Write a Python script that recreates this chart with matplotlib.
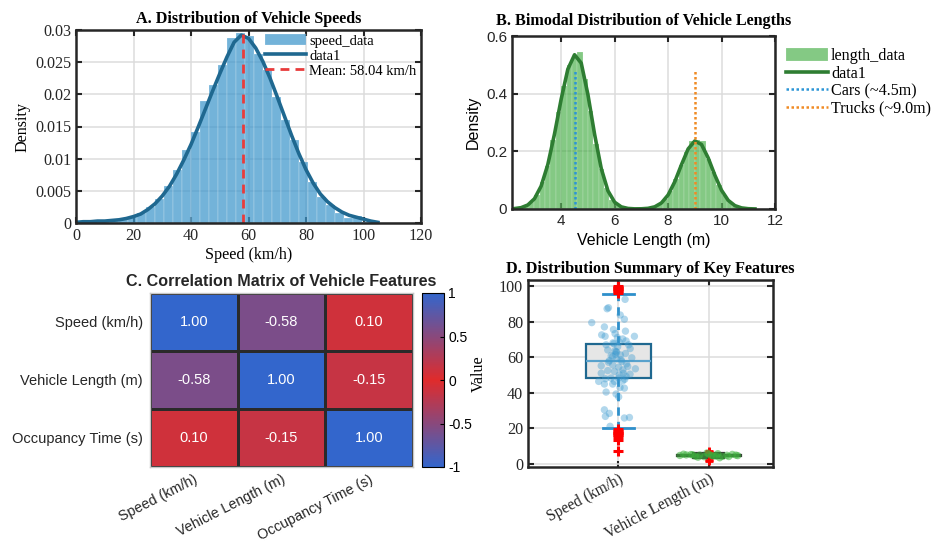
import numpy as np
import matplotlib
matplotlib.use("Agg")
import matplotlib.pyplot as plt
from matplotlib.colors import LinearSegmentedColormap

SERIF = "Liberation Serif"
SANS = "Liberation Sans"
plt.rcParams["axes.unicode_minus"] = False

# ── A: vehicle speeds (pdf-normalised histogram + kernel density) ──
SPEED_EDGE0, SPEED_BINW = 2.3, 3.13
SPEED_HIST = [0.0001, 0.0001, 0.0002, 0.0003, 0.0005, 0.0009, 0.0015, 0.0025,
              0.0038, 0.0058, 0.0082, 0.0114, 0.0142, 0.0189, 0.0215, 0.0246,
              0.0287, 0.0296, 0.0291, 0.0262, 0.0238, 0.0196, 0.0160, 0.0129,
              0.0095, 0.0064, 0.0040, 0.0028, 0.0016, 0.0008, 0.0011, 0.0002]
SPEED_KDE_X = [0, 2.5, 5, 7.5, 10, 12.5, 15, 17.5, 20, 22.5, 25, 27.5, 30, 32.5,
               35, 37.5, 40, 42.5, 45, 47.5, 50, 52.5, 55, 57.5, 60, 62.5, 65,
               67.5, 70, 72.5, 75, 77.5, 80, 82.5, 85, 87.5, 90, 92.5, 95, 97.5,
               100, 102.5, 105]
SPEED_KDE_Y = [0.0001, 0.0002, 0.0002, 0.0003, 0.0003, 0.0004, 0.0005, 0.0007,
               0.0010, 0.0014, 0.0021, 0.0030, 0.0042, 0.0057, 0.0076, 0.0098,
               0.0122, 0.0149, 0.0177, 0.0205, 0.0232, 0.0258, 0.0281, 0.0292,
               0.0287, 0.0272, 0.0251, 0.0225, 0.0196, 0.0166, 0.0136, 0.0108,
               0.0083, 0.0062, 0.0045, 0.0033, 0.0024, 0.0017, 0.0012, 0.0009,
               0.0006, 0.0003, 0.0001]
SPEED_MEAN = 58.04

# ── B: vehicle lengths (bimodal) ──
LEN_EDGE0, LEN_BINW = 2.2, 0.2
LEN_HIST = [0.002, 0.004, 0.011, 0.024, 0.048, 0.092, 0.150, 0.240, 0.335, 0.425,
            0.500, 0.530, 0.545, 0.452, 0.340, 0.225, 0.140, 0.072, 0.032, 0.013,
            0.005, 0.002, 0.0005, 0.0008, 0.0015, 0.003, 0.008, 0.017, 0.035, 0.062,
            0.105, 0.152, 0.196, 0.236, 0.238, 0.236, 0.175, 0.128, 0.083, 0.047,
            0.024, 0.011, 0.005, 0.002, 0.001, 0.0005]
LEN_KDE_X = [2.25, 2.5, 2.75, 3.0, 3.25, 3.5, 3.75, 4.0, 4.25, 4.5, 4.75, 5.0,
             5.25, 5.5, 5.75, 6.0, 6.25, 6.5, 6.75, 7.0, 7.25, 7.5, 7.75, 8.0,
             8.25, 8.5, 8.75, 9.0, 9.25, 9.5, 9.75, 10.0, 10.25, 10.5, 10.75,
             11.0, 11.25]
LEN_KDE_Y = [0.0014, 0.0046, 0.0138, 0.0355, 0.0794, 0.154, 0.260, 0.381, 0.485,
             0.535, 0.506, 0.397, 0.259, 0.140, 0.063, 0.0236, 0.0073, 0.0019,
             0.0005, 0.0007, 0.0023, 0.0075, 0.0209, 0.0486, 0.0945, 0.1535,
             0.2083, 0.2361, 0.2238, 0.1772, 0.1172, 0.0648, 0.0299, 0.0116,
             0.0037, 0.0010, 0.0002]
CAR_LEN, TRUCK_LEN = 4.5, 9.0

# ── C: correlation matrix ──
FEATURES = ["Speed (km/h)", "Vehicle Length (m)", "Occupancy Time (s)"]
CORR = [[1.00, -0.58, 0.10],
        [-0.58, 1.00, -0.15],
        [0.10, -0.15, 1.00]]

# ── D: box summaries + jittered samples ──
BOX_LABELS = ["Speed (km/h)", "Vehicle Length (m)"]
SPEED_BOX = dict(q1=48.2, med=57.9, q3=67.6, whislo=20.0, whishi=95.7)
SPEED_OUT = [96.3, 97.0, 97.6, 98.2, 98.8, 99.4, 100.0, 19.3, 18.6, 17.9,
             17.2, 16.6, 15.9, 15.2, 13.5, 7.3]
SPEED_JIT = [0.074, -0.11, -0.125, 0.02, 0.066, -0.295, -0.155, -0.055, 0.078,
             -0.185, -0.147, -0.037, -0.011, 0.177, 0.048, 0.085, 0.011, -0.06,
             0.114, -0.136, -0.008, -0.118, -0.04, -0.026, 0.078, 0.022, -0.063,
             -0.018, 0.148, 0.037, -0.11, -0.19, -0.063, 0.003, 0.103, 0.188,
             -0.118, -0.044, -0.19, 0.055, 0.129, 0.085, 0.003, -0.081, -0.144,
             -0.218, 0.048, -0.044, -0.155, -0.063, 0.018, 0.066, -0.136, -0.026,
             0.003, -0.155, -0.1, -0.144, 0.066, 0.122, -0.092, 0.03, -0.08,
             0.09, -0.02, 0.05, -0.1, 0.13, -0.05, 0.01, 0.07, -0.03]
SPEED_PTS = [92.5, 87.8, 87.2, 83.7, 81.3, 79.4, 77.0, 75.5, 74.6, 72.5, 71.7,
             73.2, 71.0, 71.7, 70.2, 69.1, 68.4, 68.0, 66.9, 66.9, 65.9, 64.0,
             63.5, 63.1, 62.0, 61.2, 60.3, 59.0, 59.6, 57.5, 57.1, 55.1, 55.6,
             54.3, 54.7, 53.4, 52.4, 51.9, 50.9, 50.9, 50.4, 49.1, 48.2, 48.2,
             47.8, 46.3, 46.6, 46.3, 44.8, 44.8, 42.9, 42.5, 40.3, 39.2, 37.6,
             30.3, 28.3, 26.6, 25.7, 26.0, 21.0, 58.5, 60.8, 56.2, 62.8, 52.8,
             58.0, 64.8, 67.5, 50.0, 47.5, 61.5]
LEN_BOX = dict(q1=4.3, med=4.65, q3=5.0, whislo=3.2, whishi=6.2)
LEN_OUT = [7.3, 6.8, 2.0, 1.7]
LEN_JIT = [-0.32, -0.25, -0.2, -0.15, -0.1, -0.05, 0.0, 0.05, 0.1, 0.15, 0.2,
           0.26, 0.32, -0.28, -0.12, 0.08, 0.22, -0.02, 0.12, -0.18, 0.03, 0.3]
LEN_PTS = [4.6, 4.9, 5.1, 4.2, 4.8, 3.9, 5.4, 4.4, 5.6, 4.1, 4.7, 5.2, 4.5,
           5.3, 3.6, 4.3, 4.0, 6.0, 3.3, 5.0, 4.6, 4.8]

W, H = 931, 543
fig = plt.figure(figsize=(W / 100, H / 100), dpi=100)
FS = 11.6


def px_axes(l, t, r, b):
    return fig.add_axes([l / W, 1 - b / H, (r - l) / W, (b - t) / H])


def matlab_axes(ax, font, size=FS):
    for s in ax.spines.values():
        s.set_linewidth(1.8)
        s.set_color("#262626")
    ax.tick_params(direction="in", length=4, width=1.5, top=True, right=True,
                   labelsize=size, colors="#262626")
    for lab in ax.get_xticklabels() + ax.get_yticklabels():
        lab.set_fontfamily(font)
    ax.grid(True, color="#dcdcdc", linewidth=1.1)
    ax.set_axisbelow(True)


# ---------------- A ----------------
ax = px_axes(76, 30, 421, 223)
edges = SPEED_EDGE0 + SPEED_BINW * np.arange(len(SPEED_HIST) + 1)
ax.hist(edges[:-1] + SPEED_BINW / 2, bins=edges, weights=SPEED_HIST,
        color="#3d96cb", alpha=0.72, edgecolor=(1, 1, 1, 0.5), linewidth=0.2,
        label="speed_data")
ax.plot(SPEED_KDE_X, SPEED_KDE_Y, color="#1f6890", lw=2.6, label="data1")
ax.axvline(SPEED_MEAN, color="#e83b3b", lw=2, ls=(0, (3.2, 2.2)),
           label=f"Mean: {SPEED_MEAN:.2f} km/h")
ax.set_xlim(0, 120)
ax.set_ylim(0, 0.03)
ax.set_xticks(range(0, 121, 20))
ax.set_yticks([0, 0.005, 0.01, 0.015, 0.02, 0.025, 0.03])
ax.set_yticklabels(["0", "0.005", "0.01", "0.015", "0.02", "0.025", "0.03"])
matlab_axes(ax, SERIF)
ax.set_xlabel("Speed (km/h)", fontfamily=SERIF, fontsize=FS, labelpad=2)
ax.set_ylabel("Density", fontfamily=SERIF, fontsize=FS, labelpad=3)
ax.set_title("A. Distribution of Vehicle Speeds", fontfamily=SERIF,
             fontsize=FS, weight="bold", pad=5)
ax.legend(loc="upper right", frameon=False, prop=dict(family=SERIF, size=10.5),
          handlelength=2.8, handleheight=0.75, labelspacing=0.1,
          handletextpad=0.25, borderaxespad=0.1, borderpad=0.2)

# ---------------- B ----------------
ax = px_axes(512, 36, 775, 209)
edges = LEN_EDGE0 + LEN_BINW * np.arange(len(LEN_HIST) + 1)
ax.hist(edges[:-1] + LEN_BINW / 2, bins=edges, weights=LEN_HIST,
        color="#33a633", alpha=0.6, edgecolor=(1, 1, 1, 0.5), linewidth=0.2,
        label="length_data")
ax.plot(LEN_KDE_X, LEN_KDE_Y, color="#2e7d32", lw=2.6, label="data1")
line_top = 0.8 * 0.6
ax.vlines(CAR_LEN, 0, line_top, color="#2b95d6", lw=1.8, ls=(0, (1, 1)),
          label=f"Cars (~{CAR_LEN}m)")
ax.vlines(TRUCK_LEN, 0, line_top, color="#f08a24", lw=1.8, ls=(0, (1, 1)),
          label=f"Trucks (~{TRUCK_LEN}m)")
ax.set_xlim(2.16, 12)
ax.set_ylim(0, 0.6)
ax.set_xticks([4, 6, 8, 10, 12])
ax.set_yticks([0, 0.2, 0.4, 0.6])
ax.set_yticklabels(["0", "0.2", "0.4", "0.6"])
matlab_axes(ax, SANS, 11)
ax.set_xlabel("Vehicle Length (m)", fontfamily=SANS, fontsize=11.5, labelpad=4)
ax.set_ylabel("Density", fontfamily=SANS, fontsize=11.5, labelpad=4)
ax.set_title("B. Bimodal Distribution of Vehicle Lengths", fontfamily=SERIF,
             fontsize=FS, weight="bold", pad=8)
fig.legend(*ax.get_legend_handles_labels(), loc="upper left",
           bbox_to_anchor=(786 / W, 1 - 48 / H), frameon=False,
           prop=dict(family=SERIF, size=11.6), handlelength=2.6,
           handleheight=0.8, labelspacing=0.1, handletextpad=0.2,
           borderaxespad=0, borderpad=0)

# ---------------- C ----------------
ax = px_axes(150, 293, 413, 467)
cmap = LinearSegmentedColormap.from_list("bluered", ["#3366cc", "#e02b2b", "#3366cc"])
corr = np.array(CORR)
mesh = ax.pcolormesh(corr, cmap=cmap, vmin=-1, vmax=1,
                     edgecolors="#2a2a2a", linewidth=1.0)
for i in range(corr.shape[0]):
    for j in range(corr.shape[1]):
        ax.text(j + 0.5, i + 0.5, f"{corr[i, j]:.2f}", ha="center", va="center",
                color="white", fontsize=10.5, fontfamily=SANS)
ax.set_xlim(0, 3)
ax.set_ylim(3, 0)
ax.set_xticks(np.arange(3) + 0.5)
ax.set_yticks(np.arange(3) + 0.5)
ax.set_xticklabels(FEATURES, rotation=27, ha="right", rotation_mode="anchor",
                   fontfamily=SANS, fontsize=10.3, color="#262626")
ax.set_yticklabels(FEATURES, fontfamily=SANS, fontsize=10.5, color="#262626")
ax.tick_params(axis="y", length=0, pad=5)
ax.tick_params(axis="x", length=0, pad=4)
for s in ax.spines.values():
    s.set_color("#c8c8c8")
    s.set_linewidth(1.0)
ax.set_title("C. Correlation Matrix of Vehicle Features", fontfamily=SANS,
             fontsize=11.6, weight="bold", pad=5, color="#262626")
cax = px_axes(422, 293, 444, 467)
cb = fig.colorbar(mesh, cax=cax, ticks=[-1, -0.5, 0, 0.5, 1])
cb.ax.set_yticklabels(["-1", "-0.5", "0", "0.5", "1"], fontfamily=SANS, fontsize=10)
cb.ax.tick_params(length=3, width=0.8, direction="in", pad=3)
cb.outline.set_linewidth(0.8)

# ---------------- D ----------------
ax = px_axes(528, 280, 773, 467)
ax.bxp([dict(SPEED_BOX, fliers=SPEED_OUT)], positions=[1], widths=0.71,
       capwidths=0.34, patch_artist=True, showfliers=True,
       boxprops=dict(facecolor="#e6e6e6", edgecolor="#1f6890", lw=1.6),
       medianprops=dict(color="#5aa2cc", lw=1.6),
       whiskerprops=dict(color="#2e8fcb", lw=2, ls=(0, (3, 2.2))),
       capprops=dict(color="#2e8fcb", lw=2),
       flierprops=dict(marker="+", markeredgecolor="red", markersize=7, mew=2.2,
                       ls="none"))
ax.bxp([dict(LEN_BOX, fliers=LEN_OUT)], positions=[2], widths=0.71,
       capwidths=0.34, patch_artist=True, showfliers=True,
       boxprops=dict(facecolor="#e6e6e6", edgecolor="#333333", lw=1.6),
       medianprops=dict(color="#333333", lw=1.6),
       whiskerprops=dict(color="#333333", lw=1.6, ls=(0, (3, 2.2))),
       capprops=dict(color="#333333", lw=1.6),
       flierprops=dict(marker="+", markeredgecolor="red", markersize=6, mew=2,
                       ls="none"))
ax.scatter(1 + np.array(SPEED_JIT), SPEED_PTS, s=28, color="#3e9bd0", alpha=0.4,
           edgecolors="none", zorder=4)
ax.scatter(2 + np.array(LEN_JIT), LEN_PTS, s=28, color="#3db33d", alpha=0.55,
           edgecolors="none", zorder=4)
ax.set_xlim(0, 2.71)
ax.set_ylim(-1.9, 103.4)
ax.set_yticks(range(0, 101, 20))
ax.set_xticks([1, 2])
ax.set_xticklabels(BOX_LABELS)
matlab_axes(ax, SERIF)
ax.tick_params(axis="x", labelrotation=28, labelsize=11.2, pad=3)
for lab in ax.get_xticklabels():
    lab.set_ha("right")
    lab.set_rotation_mode("anchor")
ax.set_ylabel("Value", fontfamily=SERIF, fontsize=FS, labelpad=9)
ax.set_title("D. Distribution Summary of Key Features", fontfamily=SERIF,
             fontsize=FS, weight="bold", pad=5)

fig.savefig("out.png", dpi=100)
